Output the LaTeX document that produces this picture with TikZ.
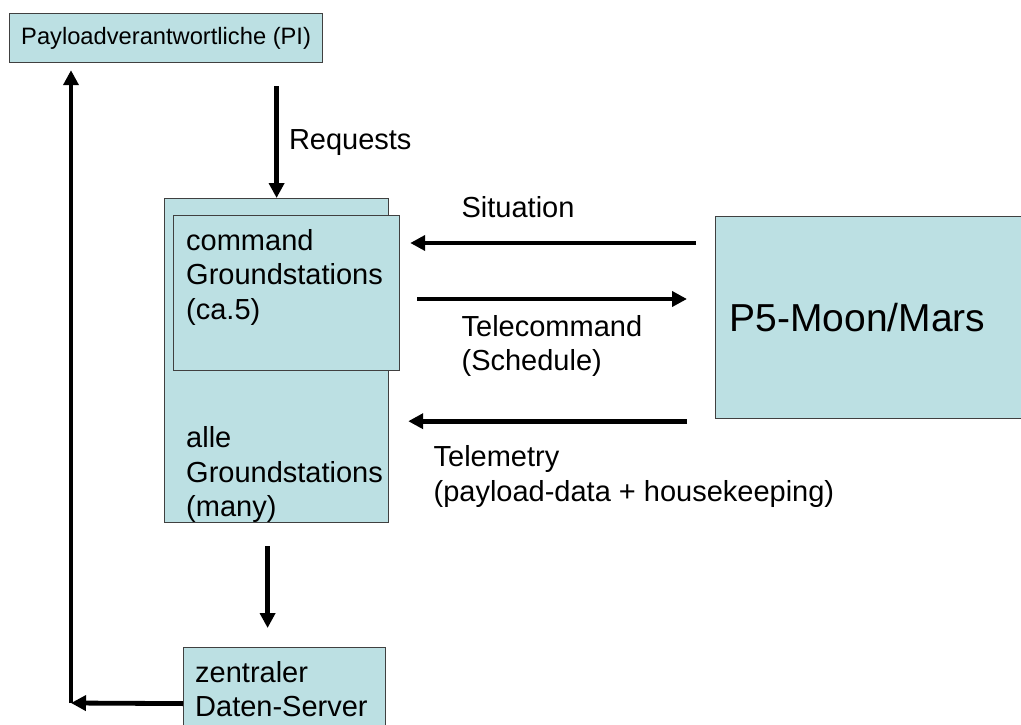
\documentclass[tikz,border=0pt]{standalone}
\usepackage{fontspec}
\setmainfont{Liberation Sans}
\usetikzlibrary{arrows.meta, positioning}
\definecolor{boxfill}{HTML}{BCE0E3}
\definecolor{boxline}{HTML}{404040}

\begin{document}
\begin{tikzpicture}[
    x=1pt, y=-1pt,
    box/.style={rectangle, draw=boxline, fill=boxfill, line width=1.2pt, anchor=north west, inner sep=0pt},
    txt/.style={font=\fontsize{29}{34.5}\selectfont, align=left, inner sep=0pt},
    arrow/.style={-{Triangle[length=15pt, width=15pt]}, line width=4.8pt}
]
    \useasboundingbox (0,0) rectangle (1021,725);

    \node[box, minimum width=313pt, minimum height=49pt, font=\fontsize{23.7}{28}\selectfont] (pi) at (9,13) {Payloadverantwortliche (PI)};
    \node[box, minimum width=224pt, minimum height=324pt,
          label={[txt, anchor=south west, xshift=22pt, yshift=0pt]south west:{alle\\Groundstations\\(many)}}] (allgs) at (164,198) {};
    \node[box, minimum width=226pt, minimum height=155pt,
          label={[txt, anchor=north west, xshift=13pt, yshift=-14pt]north west:{command\\Groundstations\\(ca.5)}}] (cmdgs) at (173,215) {};
    \node[box, minimum width=308pt, minimum height=202pt, text width=280pt, inner xsep=14pt, align=left, font=\fontsize{39}{46}\selectfont] (p5) at (715,216) {P5-Moon/Mars};
    \node[box, minimum width=202pt, minimum height=90pt,
          label={[txt, anchor=north west, xshift=12pt, yshift=-14pt]north west:{zentraler\\Daten-Server}}] (server) at (183,647) {};

    \coordinate (sit) at ([yshift=-27pt]p5.north west);
    \coordinate (tc) at ([yshift=-83pt]p5.north west);
    \coordinate (tm) at ([yshift=-2pt]p5.south west);
    \coordinate (down) at ([xshift=-9pt]allgs.south);
    \coordinate (elbow) at (71,703);

    \draw[arrow, shorten <=23pt] (pi.south -| allgs.north) -- (allgs.north)
        node[midway, txt, anchor=west, xshift=10pt, yshift=-12pt] {Requests};
    \draw[arrow, shorten <=19pt, shorten >=10pt] (sit) -- (sit -| cmdgs.east)
        node[at end, txt, anchor=south west, xshift=59pt, yshift=23pt] {Situation};
    \draw[arrow, shorten <=17pt, shorten >=28pt] (tc -| cmdgs.east) -- (tc)
        node[at start, txt, anchor=north west, xshift=59pt, yshift=-14pt] {Telecommand\\(Schedule)};
    \draw[arrow, shorten <=28pt, shorten >=19pt] (tm) -- (tm -| allgs.east)
        node[at end, txt, anchor=north west, xshift=42pt, yshift=-22pt] {Telemetry\\(payload-data + housekeeping)};
    \draw[arrow, shorten <=23pt, shorten >=19pt] (down) -- (down |- server.north);
    \draw[arrow] ([yshift=-11pt]server.west) -- (elbow);
    \draw[arrow, shorten >=7pt] (elbow) -- (elbow |- pi.south);
\end{tikzpicture}
\end{document}
